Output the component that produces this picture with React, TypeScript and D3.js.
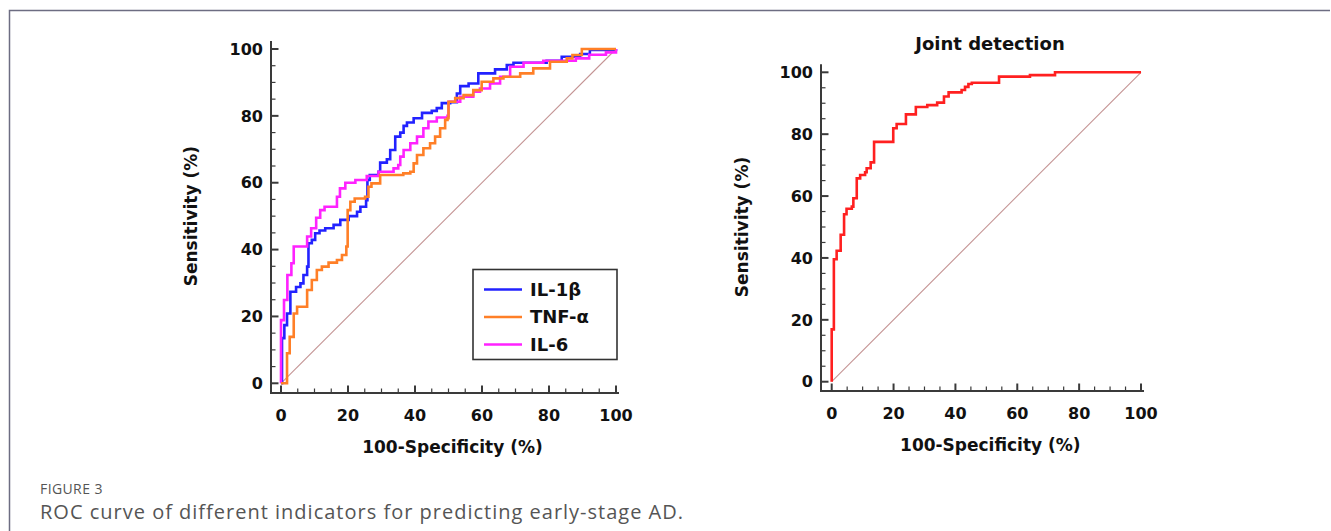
import { useEffect, useRef } from 'react';
import * as d3 from 'd3';

// ROC points [100-specificity, sensitivity] (step-after order)
const il1bRoc: [number, number][] = [
  [0, 0], [0.3, 13.5], [1.0, 17.4], [1.8, 20.9], [2.8, 27.4], [4.5, 28.8], [5.8, 29.9],
  [6.7, 32.4], [7.8, 34.9], [8.2, 41.9], [9.2, 42.9], [10.2, 44.9], [11.5, 45.7],
  [13.2, 46.4], [15.7, 47.4], [17.7, 48.9], [20.2, 50.0], [22.7, 51.3], [23.7, 52.8],
  [25.4, 54.8], [25.8, 60.8], [26.5, 62.3], [29.1, 63.3], [29.6, 66.0], [31.6, 67.0],
  [32.6, 69.8], [34.1, 73.8], [35.6, 75.0], [36.6, 77.0], [37.6, 78.0], [39.6, 79.3],
  [42.1, 80.9], [45.0, 81.5], [46.5, 82.3], [48.0, 83.8], [50.5, 84.1], [52.5, 86.7],
  [53.5, 88.9], [56.0, 89.7], [58.9, 92.7], [63.9, 93.9], [67.4, 95.2], [69.4, 95.9],
  [79.3, 96.5], [83.8, 97.7], [89.3, 98.5], [92.2, 99.7], [100, 100],
];

const tnfaRoc: [number, number][] = [
  [0, 0], [1.8, 9.0], [2.6, 13.9], [3.8, 20.9], [4.8, 22.9], [7.8, 27.9], [9.2, 30.9],
  [10.7, 33.9], [12.2, 34.9], [14.2, 36.1], [16.7, 36.9], [18.2, 38.4], [19.5, 40.9],
  [19.9, 51.8], [20.7, 54.3], [22.0, 55.3], [25.1, 55.8], [26.1, 58.8], [27.0, 59.8],
  [29.6, 62.3], [36.5, 62.8], [38.6, 63.3], [39.6, 65.8], [40.6, 68.3], [42.5, 70.3],
  [44.5, 71.8], [46.0, 73.8], [47.5, 76.3], [49.0, 78.8], [49.7, 79.3], [50.0, 84.2],
  [52.0, 85.3], [54.5, 86.2], [57.4, 87.7], [59.9, 90.2], [63.4, 91.2], [66.4, 91.7],
  [71.4, 92.7], [75.3, 94.2], [80.3, 96.2], [85.3, 97.2], [87.0, 98.2], [89.8, 100], [100, 100],
];

const il6Roc: [number, number][] = [
  [0, 0], [0, 18.9], [0.9, 24.9], [1.9, 32.4], [3.1, 35.9], [3.8, 40.9], [7.8, 43.9],
  [9.0, 46.4], [10.5, 49.5], [11.7, 51.8], [13.0, 52.8], [16.7, 55.8], [17.6, 58.3],
  [19.2, 60.0], [22.2, 60.8], [25.6, 62.0], [29.1, 63.3], [33.6, 64.3], [35.0, 65.3],
  [35.6, 67.8], [36.6, 69.8], [38.6, 71.8], [40.6, 73.8], [42.5, 76.3], [44.0, 78.3],
  [46.5, 79.5], [49.7, 80.0], [50.0, 84.2], [53.5, 85.7], [57.4, 87.2], [59.4, 88.2],
  [62.4, 89.7], [65.4, 91.7], [68.4, 94.7], [72.4, 95.9], [78.3, 96.5], [88.0, 97.2],
  [92.0, 98.3], [97.0, 99.0], [100, 100],
];

const jointRoc: [number, number][] = [
  [0, 0], [0, 16.9], [0.7, 39.6], [1.6, 42.3], [2.9, 47.5], [4.0, 54.1], [4.8, 55.9],
  [6.5, 56.6], [7.0, 59.3], [8.1, 65.7], [9.2, 66.8], [10.8, 67.7], [11.3, 69.0],
  [12.6, 70.9], [13.7, 77.5], [19.9, 81.9], [21.0, 83.3], [24.0, 86.4], [27.2, 88.8],
  [30.9, 89.4], [34.1, 90.2], [36.3, 92.2], [37.8, 93.5], [42.0, 94.3], [43.1, 95.3],
  [44.2, 96.2], [45.3, 96.6], [54.1, 98.6], [64.1, 99.1], [72.2, 100], [100, 100],
];

const majorTicks = [0, 20, 40, 60, 80, 100];
const minorTicks = d3.range(0, 101, 5);

const leftSeries = [
  { name: 'IL-1β', color: '#2222ff', data: il1bRoc },
  { name: 'IL-6', color: '#ff22ff', data: il6Roc },
  { name: 'TNF-α', color: '#ff7f27', data: tnfaRoc },
];
const legendOrder = ['IL-1β', 'TNF-α', 'IL-6'];

const FONT = '"DejaVu Sans", Verdana, sans-serif';

export default function App() {
  const svgRef = useRef<SVGSVGElement>(null);

  useEffect(() => {
    const svg = d3.select(svgRef.current);
    svg.selectAll('*').remove();

    // outer figure frame (top + left edges)
    svg.append('path')
      .attr('d', 'M9.5,531 V10.5 H1330')
      .attr('fill', 'none')
      .attr('stroke', '#6d6d82')
      .attr('stroke-width', 1.5);

    const drawPanel = (p: any, series: any[]) => {
      const x = d3.scaleLinear().domain([0, 100]).range([p.x0, p.x1]);
      const y = d3.scaleLinear().domain([0, 100]).range([p.y0, p.y1]);
      const g = svg.append('g');

      // diagonal reference
      g.append('line')
        .attr('x1', x(0)).attr('y1', y(0))
        .attr('x2', x(100)).attr('y2', y(100))
        .attr('stroke', '#c49494')
        .attr('stroke-width', 1.1);

      const line = d3.line<[number, number]>()
        .x(d => x(d[0]))
        .y(d => y(d[1]))
        .curve(d3.curveStepAfter);

      series.forEach(s => {
        g.append('path')
          .datum(s.data)
          .attr('fill', 'none')
          .attr('stroke', s.color)
          .attr('stroke-width', 2.6)
          .attr('stroke-linejoin', 'miter')
          .attr('d', line);
      });

      // axes: lines offset from the data area
      const axisColor = '#3a3a3a';
      g.append('path')
        .attr('d', `M${p.ax},${y(100) - 8} V${p.ay} H${x(100) + 3}`)
        .attr('fill', 'none')
        .attr('stroke', axisColor)
        .attr('stroke-width', 2);

      minorTicks.forEach(t => {
        const major = majorTicks.includes(t);
        const len = major ? 7.5 : 4.5;
        g.append('line')
          .attr('x1', p.ax).attr('x2', p.ax + len)
          .attr('y1', y(t)).attr('y2', y(t))
          .attr('stroke', axisColor).attr('stroke-width', major ? 2 : 1.2);
        g.append('line')
          .attr('x1', x(t)).attr('x2', x(t))
          .attr('y1', p.ay).attr('y2', p.ay - len)
          .attr('stroke', axisColor).attr('stroke-width', major ? 2 : 1.2);
      });

      majorTicks.forEach(t => {
        g.append('text')
          .attr('x', p.ax - 8).attr('y', y(t))
          .attr('dy', '0.36em')
          .attr('text-anchor', 'end')
          .style('font-family', FONT).style('font-weight', 'bold').style('font-size', '16px')
          .style('fill', '#111')
          .text(t);
        g.append('text')
          .attr('x', x(t)).attr('y', p.ay + 22)
          .attr('dy', '0.36em')
          .attr('text-anchor', 'middle')
          .style('font-family', FONT).style('font-weight', 'bold').style('font-size', '16px')
          .style('fill', '#111')
          .text(t);
      });

      g.append('text')
        .attr('transform', `translate(${p.ylx},${(y(0) + y(100)) / 2}) rotate(-90)`)
        .attr('dy', '0.36em')
        .attr('text-anchor', 'middle')
        .style('font-family', FONT).style('font-weight', 'bold').style('font-size', '17px')
        .style('fill', '#111')
        .text('Sensitivity (%)');

      g.append('text')
        .attr('x', (x(0) + x(100)) / 2 + 4).attr('y', p.xly)
        .attr('dy', '0.36em')
        .attr('text-anchor', 'middle')
        .style('font-family', FONT).style('font-weight', 'bold').style('font-size', '17px')
        .style('fill', '#111')
        .text('100-Specificity (%)');

      return { g, x, y };
    };

    const left = drawPanel({ x0: 281, x1: 616, y0: 383.3, y1: 49, ax: 271, ay: 393, ylx: 191, xly: 447 }, leftSeries);
    const right = drawPanel({ x0: 831.7, x1: 1141, y0: 381.7, y1: 72.3, ax: 821, ay: 391, ylx: 742, xly: 445 },
      [{ name: 'Joint detection', color: '#ff2020', data: jointRoc }]);

    right.g.append('text')
      .attr('x', 990).attr('y', 44)
      .attr('dy', '0.36em')
      .attr('text-anchor', 'middle')
      .style('font-family', FONT).style('font-weight', 'bold').style('font-size', '18px')
      .style('fill', '#111')
      .text('Joint detection');

    // legend
    const legend = left.g.append('g').attr('transform', 'translate(473,269.5)');
    legend.append('rect')
      .attr('width', 144).attr('height', 90)
      .attr('fill', '#fff')
      .attr('stroke', '#333')
      .attr('stroke-width', 1.6);
    legendOrder.forEach((name, i) => {
      const s = leftSeries.find(d => d.name === name)!;
      const row = legend.append('g').attr('transform', `translate(0,${20 + i * 27.5})`);
      row.append('line')
        .attr('x1', 11).attr('x2', 49)
        .attr('stroke', s.color).attr('stroke-width', 2.6);
      row.append('text')
        .attr('x', 57).attr('dy', '0.36em')
        .style('font-family', FONT).style('font-weight', 'bold').style('font-size', '18px')
        .style('fill', '#111')
        .text(name);
    });

    // caption
    svg.append('text')
      .attr('x', 40).attr('y', 494)
      .style('font-family', '"Open Sans", sans-serif').style('font-size', '14px')
      .style('letter-spacing', '0.4px')
      .style('fill', '#555')
      .text('FIGURE 3');
    svg.append('text')
      .attr('x', 40).attr('y', 519)
      .style('font-family', '"Open Sans", sans-serif').style('font-size', '20px')
      .style('letter-spacing', '1px')
      .style('fill', '#555')
      .text('ROC curve of different indicators for predicting early-stage AD.');
  }, []);

  return (
    <svg
      ref={svgRef}
      width={1331}
      height={531}
      style={{ position: 'absolute', left: 0, top: 0, background: '#fff' }}
    />
  );
}
